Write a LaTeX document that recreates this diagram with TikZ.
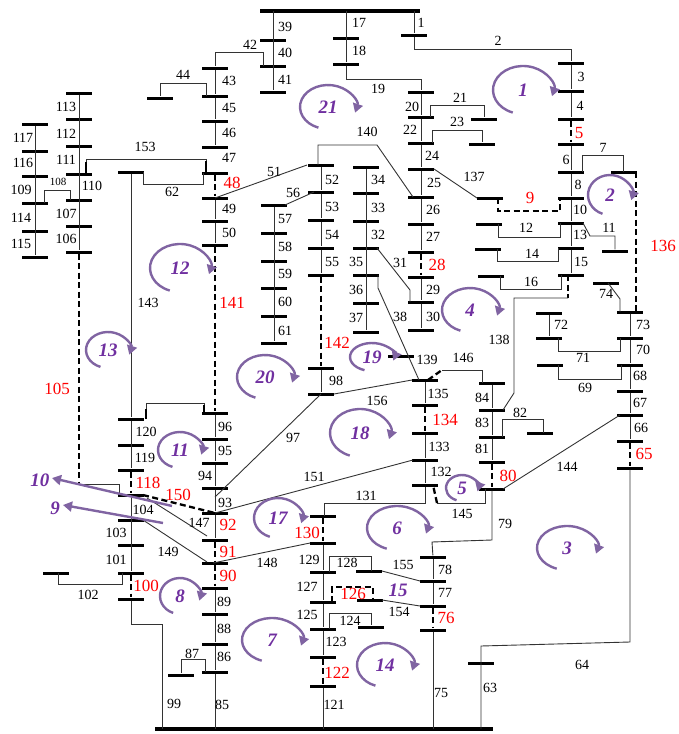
\documentclass[tikz,border=0pt]{standalone}
\usepackage{fontspec}
\setmainfont{Liberation Serif}
\usepackage{xcolor}
\usetikzlibrary{arrows.meta}
\definecolor{meshpurple}{RGB}{128,100,162}
\definecolor{meshtext}{RGB}{112,48,160}
\tikzset{
    bus/.style={
           rectangle,
           fill=black,
           inner sep=0pt,
           minimum width=26pt,
           minimum height=3pt,
           },
    feeder/.style={draw=black!80, line width=0.9pt},
    tie/.style={draw=black, line width=2.3pt, dash pattern=on 6pt off 3.5pt},
    stub/.style={draw=black, line width=2.3pt},
    lbl/.style={inner sep=0pt, font=\fontsize{14}{14}\selectfont},
    redlbl/.style={inner sep=0pt, text=red, font=\fontsize{17}{17}\selectfont},
    meshlbl/.style={inner sep=0pt, text=meshtext, font=\fontsize{19}{19}\selectfont\bfseries\itshape},
    mesharrow/.style={draw=meshpurple, line width=2.4pt, -{Triangle[length=9pt,width=10pt]}},
}
\begin{document}
\begin{tikzpicture}[x=1pt,y=1pt]
	\useasboundingbox (0,0) rectangle (679,-734);
	
	%BUSES
	\node[bus, minimum width=160pt, minimum height=3.5pt] (src) at (340,-11) {};
	\node[bus, minimum width=338pt, minimum height=3.5pt] (sub) at (324,-729) {};
	\foreach \y [count=\i] in {40,66,92} \node[bus] (a\i) at (273,-\y) {};
	\foreach \y [count=\i] in {38,64} \node[bus] (b\i) at (346,-\y) {};
	\node[bus] (u1) at (414,-35) {};
	\foreach \y [count=\i] in {63,91,119,144,172,198,223,248,275} \node[bus] (c\i) at (571,-\y) {};
	\foreach \y [count=\i] in {312,338,365,391,415,441,468} \node[bus] (d\i) at (630,-\y) {};
	\foreach \y [count=\i] in {383,410,437,462,489} \node[bus] (e\i) at (492,-\y) {};
	\foreach \y [count=\i] in {557,581,606,630} \node[bus] (f\i) at (433,-\y) {};
	\foreach \y [count=\i] in {516,543,572,602,629,657,686} \node[bus] (g\i) at (323,-\y) {};
	\foreach \y [count=\i] in {380,405,433,460,485} \node[bus] (h\i) at (425,-\y) {};
	\foreach \y [count=\i] in {165,192,220,248,275,368,394} \node[bus] (i\i) at (321,-\y) {};
	\foreach \y [count=\i] in {205,233,261,288,316,343} \node[bus] (j\i) at (274,-\y) {};
	\foreach \y [count=\i] in {167,193,221,248,275,303,332} \node[bus] (k\i) at (366,-\y) {};
	\foreach \y [count=\i] in {92,117,143,169,197,224,252,277,302,330} \node[bus] (l\i) at (421,-\y) {};
	\foreach \y [count=\i] in {68,96,121,147,173,198,221,245,413,439,463,488,513,540,563,588,614,644,672} \node[bus] (m\i) at (215,-\y) {};
	\foreach \y [count=\i] in {93,119,146,174,200,226,252} \node[bus] (n\i) at (79,-\y) {};
	\foreach \y [count=\i] in {124,151,176,203,231,257} \node[bus] (o\i) at (35,-\y) {};
	\foreach \y [count=\i] in {419,445,470,495,520,545,573,599} \node[bus] (p\i) at (131,-\y) {};
	\foreach \y [count=\i] in {313,338} \node[bus] (q\i) at (549,-\y) {};
	\foreach \nm/\x/\y in {7/624/172, 9/490/198, 12/489/224, 11/615/251, 14/488/249, 16/491/276,
		74/606/283, 69/550/365, 63/481/663, 82/540/433, 155/369/571, 126/370/600, 124/371/627,
		139/401/356, 21/484/119, 23/482/144, 44/160/98, 62/131/172, 102/56/573, 87/181/675}
		\node[bus] (s\nm) at (\x,-\y) {};
	
	%FEEDERS, top
	\draw[feeder] (src -| a1) -- (a3);
	\draw[feeder] (src -| b1) -- (b2);
	\draw[feeder] (src -| u1) -- (u1);
	\draw[feeder] ([xshift=-10]a2.center) -- ++(0,14) -| (m1);
	\draw[feeder] (u1) -- ++(0,-14) -| (c1);
	\draw[feeder] (b2) -- ++(0,-15) -| (l1);
	
	%right column
	\foreach \a/\b in {1/2,2/3,4/5,5/6,6/7,7/8,8/9} \draw[feeder] (c\a) -- (c\b);
	\draw[tie] (c3) -- (c4);
	\draw[tie] ([xshift=-3]c9.center) -- ++(0,-23) coordinate (k138);
	\draw[feeder] (k138) -- ++(-54,0) -- ++(0,-95) -- ([xshift=11]e2.center);
	\draw[feeder] ([xshift=11]c5.center) -- ++(0,17) -| ([xshift=-1]s7.center);
	\draw[tie] ([xshift=12]s7.center) -- ([xshift=6]d1.center);
	\draw[tie] ([xshift=8]s9.center) -- ++(0,-13) -| ([xshift=-11]c6.center);
	\draw[feeder] ([xshift=9]s12.center) -- ++(0,-13) -| ([xshift=-11]c7.center);
	\draw[feeder] ([xshift=12]c7.center) -- ++(7,-13) -| (s11);
	\draw[feeder] ([xshift=9]s14.center) -- ++(0,-12) -| ([xshift=-13]c8.center);
	\draw[feeder] ([xshift=9]s16.center) -- ++(0,-13) -| ([xshift=-10]c9.center);
	\draw[feeder] ([xshift=2]s74.center) -- ++(12,-16) -- ([xshift=-10]d1.center);
	
	\foreach \a/\b in {1/2,2/3,3/4,4/5,5/6} \draw[feeder] (d\a) -- (d\b);
	\draw[tie] (d6) -- (d7);
	\draw[feeder] (d7) -- ++(0,-174) -- ++(-149,-4) -- (sub -| s63);
	\draw[feeder] (q1) -- (q2);
	\draw[feeder] ([xshift=9]q2.center) -- ++(0,-13) -| ([xshift=-10]d2.center);
	\draw[feeder] ([xshift=8]s69.center) -- ++(0,-14) -| ([xshift=-9]d3.center);
	
	\foreach \a/\b in {1/2,2/3,3/4} \draw[feeder] (e\a) -- (e\b);
	\draw[tie] (e4) -- (e5);
	\draw[feeder] ([xshift=10]e3.center) -- ++(0,18) -| ([xshift=3]s82.center);
	\draw[feeder] ([xshift=11]e5.center) -- ([xshift=-10]d5.center);
	\draw[feeder] ([xshift=-7]e5.center) -- ++(0,-14) -- ++(-48,0) coordinate (k145);
	\draw[tie] (k145) -- ([xshift=8]h5.center);
	\draw[feeder] (e5) -- ++(0,-51) -- ++(-60,-2) -- (f1);
	\draw[tie] ([xshift=3]h1.center) -- ++(14,10) coordinate (k146);
	\draw[feeder] (k146) -| ([xshift=-10]e1.center);
	
	%lower middle
	\draw[feeder] (f1) -- (f2);
	\draw[feeder] (f2) -- (f3);
	\draw[tie] (f3) -- (f4);
	\draw[feeder] (f4) -- (sub -| f4);
	\draw[feeder] ([xshift=13]s155.center) -- ([xshift=-13]f2.center);
	\draw[feeder] ([xshift=12]s126.center) -- ([xshift=-13]f3.center);
	
	\draw[tie] (g1) -- (g2);
	\foreach \a/\b in {2/3,3/4,4/5,5/6} \draw[feeder] (g\a) -- (g\b);
	\draw[tie] (g6) -- (g7);
	\draw[feeder] (g7) -- (sub -| g7);
	\draw[feeder] ([xshift=6]g3.center) -- ++(0,16) -| ([xshift=2]s155.center);
	\draw[tie] ([xshift=9]g4.center) -- ++(0,15) -| ([xshift=3]s126.center);
	\draw[feeder] ([xshift=6]g5.center) -- ++(0,16) -| (s124);
	\draw[feeder] ([xshift=1]g1.center) -- ++(0,13) -| (h5);
	\draw[feeder] ([xshift=-13]g2.center) -- ([xshift=-2]m15.center);
	
	\draw[feeder] (h1) -- (h2);
	\draw[tie] (h2) -- (h3);
	\draw[feeder] (h3) -- (h4);
	\draw[feeder] (h4) -- (h5);
	\draw[feeder] ([xshift=-13]h1.center) -- ([xshift=13]i7.center);
	\draw[feeder] (i7.center) -- ([yshift=-9]m12.center);
	\draw[feeder] ([xshift=-12]h4.center) -- (m13.center);
	
	%upper middle
	\foreach \a/\b in {1/2,2/3,3/4,4/5,6/7} \draw[feeder] (i\a) -- (i\b);
	\draw[tie] (i5) -- (i6);
	\draw[feeder] ([xshift=-3]i1.center) -- ++(0,20) -- ++(59,0) -- ([xshift=-8]l5.center);
	\draw[feeder] ([xshift=-14]i1.center) -- (m6.center);
	\draw[feeder] ([xshift=-7]i2.center) -- ([xshift=11]j1.center);
	\draw[feeder] (j1) -- (j6);
	\draw[feeder] (k1) -- (k7);
	\draw[feeder] ([xshift=11]k4.center) -- ([xshift=-11,yshift=12]l9.center) -- ([xshift=-11]l9.center);
	\draw[feeder] ([xshift=12]k5.center) -- ++(0,-13) -- ([xshift=-6]h1.center);
	
	\foreach \a/\b in {1/2,2/3,3/4,4/5,5/6,6/7,8/9,9/10} \draw[feeder] (l\a) -- (l\b);
	\draw[tie] (l7) -- (l8);
	\draw[feeder] ([xshift=9]l2.center) -- ++(0,12) -| (s21);
	\draw[feeder] ([xshift=11]l3.center) -- ++(0,13) -| (s23);
	\draw[feeder] ([xshift=13]l4.center) -- ([xshift=-13]s9.center);
	
	%left
	\foreach \a/\b in {1/2,2/3,3/4,6/7,7/8,9/10,10/11,11/12,12/13,13/14,16/17,17/18,18/19} \draw[feeder] (m\a) -- (m\b);
	\draw[tie] (m5) -- (m6);
	\draw[tie] (m8) -- (m9);
	\draw[tie] (m14) -- (m15);
	\draw[tie] (m15) -- (m16);
	\draw[feeder] (m19) -- (sub -| m19);
	\draw[feeder] ([xshift=-9]m2.center) -- ++(0,13) -| (s44);
	\draw[feeder] ([xshift=-9]m5.center) -- ++(0,14) -| ([xshift=7]n4.center);
	\draw[stub] ([xshift=-9]m5.center) -- ++(0,12);
	\draw[stub] ([xshift=7]n4.center) -- ++(0,12);
	\draw[feeder] ([xshift=12]s62.center) -- ++(0,-12) -| ([xshift=-12]m5.center);
	\draw[feeder] (s62) -- (p1);
	\draw[feeder] ([xshift=15]p1.center) -- ++(0,16) -| ([xshift=-11]m9.center);
	\draw[stub] ([xshift=15]p1.center) -- ++(0,10);
	\draw[stub] ([xshift=-11]m9.center) -- ++(0,8);
	\draw[feeder] ([xshift=-10]m19.center) -- ++(0,13) -| (s87);
	
	\draw[feeder] (n1) -- (n7);
	\draw[tie] (n7) -- ([yshift=-232]n7.center) coordinate (k105);
	\draw[feeder] (k105) -| ([xshift=-12]p4.center);
	\draw[feeder] ([xshift=9]o4.center) -- ++(0,13) -| ([xshift=-9]n5.center);
	\draw[feeder] (o1) -- (o6);
	
	\draw[feeder] (p1) -- (p3);
	\draw[tie] (p3) -- (p4);
	\draw[feeder] (p4) -- (p7);
	\draw[tie] (p7) -- (p8);
	\draw[feeder] (p8) -- ++(0,-25) -| ([xshift=-162]sub.center);
	\draw[feeder] ([xshift=-9]p7.center) -- ++(0,-11) -| ([xshift=2]s102.center);
	\draw[tie] ([xshift=12]p4.center) -- (m13.center);
	\draw[feeder] ([xshift=16,yshift=-3]p4.center) -- ([xshift=-8,yshift=4]m14.center);
	\draw[feeder] ([xshift=12]p5.center) -- ([xshift=-8,yshift=1]m15.center);
	
	%LABELS
	\foreach \lab/\x/\y in {39/285/27, 40/285/53, 41/285/80, 42/250/45, 17/359/23, 18/359/51, 1/421/23,
		2/498/41, 19/378/89, 44/183/75, 43/229/81, 45/229/108, 46/229/133, 47/229/158, 49/229/209,
		50/229/233, 113/66/107, 112/66/134, 111/66/160, 110/92/186, 107/66/214, 106/66/239,
		117/23/138, 116/23/163, 109/21/190, 114/21/218, 115/21/244, 153/145/147, 62/172/192,
		143/148/303, 20/412/107, 22/410/130, 24/432/156, 25/434/183, 21/460/98, 23/457/122,
		26/433/210, 27/433/237, 29/433/290, 30/433/317, 137/474/177, 140/367/132, 52/332/180,
		53/332/207, 54/332/235, 55/332/262, 51/274/172, 56/293/193, 57/285/219, 58/285/247,
		59/285/274, 60/285/302, 61/285/331, 34/378/180, 33/378/208, 32/378/235, 35/356/262,
		36/356/290, 37/356/318, 31/400/263, 38/400/317, 139/427/360, 3/581/77, 4/580/106,
		6/566/160, 8/578/185, 10/580/210, 13/580/235, 15/581/262, 7/603/148, 12/526/228,
		11/609/228, 14/532/254, 16/531/282, 74/606/294, 73/643/325, 70/643/350, 72/561/325,
		71/583/358, 68/640/376, 67/640/403, 66/641/428, 69/585/388, 84/482/398, 83/482/423,
		81/482/449, 82/520/413, 144/567/467, 145/462/514, 79/505/524, 146/463/358, 138/499/340,
		135/438/394, 133/439/447, 132/441/472, 156/377/401, 97/293/438, 151/314/477, 131/366/496,
		98/336/381, 120/146/432, 119/145/458, 104/143/510, 103/116/533, 101/116/560, 96/225/427,
		95/225/451, 94/205/476, 93/225/503, 147/199/523, 149/168/552, 148/267/563, 129/309/560,
		127/307/587, 125/307/615, 123/336/642, 121/334/705, 128/347/563, 124/350/621, 155/403/565,
		154/399/612, 78/445/570, 77/445/593, 75/441/693, 102/88/595, 99/174/704, 89/224/602,
		88/224/629, 86/224/657, 85/222/705, 87/192/654, 64/582/665, 63/490/688}
		\node[lbl] (t\lab) at (\x,-\y) {\lab};
	\node[lbl, font=\fontsize{11}{11}\selectfont] (t108) at (58,-182) {108};
	
	\foreach \lab/\x/\y in {5/579/133, 9/530/198, 136/663/246, 28/437/265, 48/232/183, 141/232/303,
		142/337/343, 105/57/389, 118/148/483, 150/178/495, 92/228/525, 91/228/552, 90/228/576,
		134/445/420, 80/508/476, 65/644/454, 130/307/533, 126/353/594, 122/337/673, 76/446/618,
		100/146/586}
		\node[redlbl] (r\lab) at (\x,-\y) {\lab};
	
	%MESHES
	\foreach \nm/\x/\y/\rx/\ry in {1/523/90/30/24, 2/610/195/22/20, 3/567/548/30/22, 4/470/310/28/22,
		5/462/488/16/13, 6/397/528/30/22, 7/272/640/30/22, 8/180/596/20/18, 11/180/450/22/18,
		12/180/268/30/24, 13/108/350/22/18, 14/385/665/28/22, 17/278/518/24/20, 18/360/433/30/24,
		19/372/357/22/14, 20/265/377/28/22, 21/328/107/28/22}
	{
		\node[meshlbl] (L\nm) at (\x,-\y) {\nm};
		\draw[mesharrow] (L\nm.center) ++({\rx*cos(250)},{\ry*sin(250)})
			arc[start angle=250, end angle=-15, x radius=\rx, y radius=\ry];
	}
	\node[meshlbl] (L15) at (398,-590) {15};
	\node[meshlbl] (L10) at (40,-480) {10};
	\node[meshlbl] (L9) at (55,-508) {9};
	\coordinate (w10) at (172,-506);
	\coordinate (w9) at (163,-523);
	\draw[mesharrow] (w10) -- ([xshift=12,yshift=2]L10.center);
	\draw[mesharrow] (w9) -- ([xshift=8,yshift=3]L9.center);
	
\end{tikzpicture}
\end{document}
